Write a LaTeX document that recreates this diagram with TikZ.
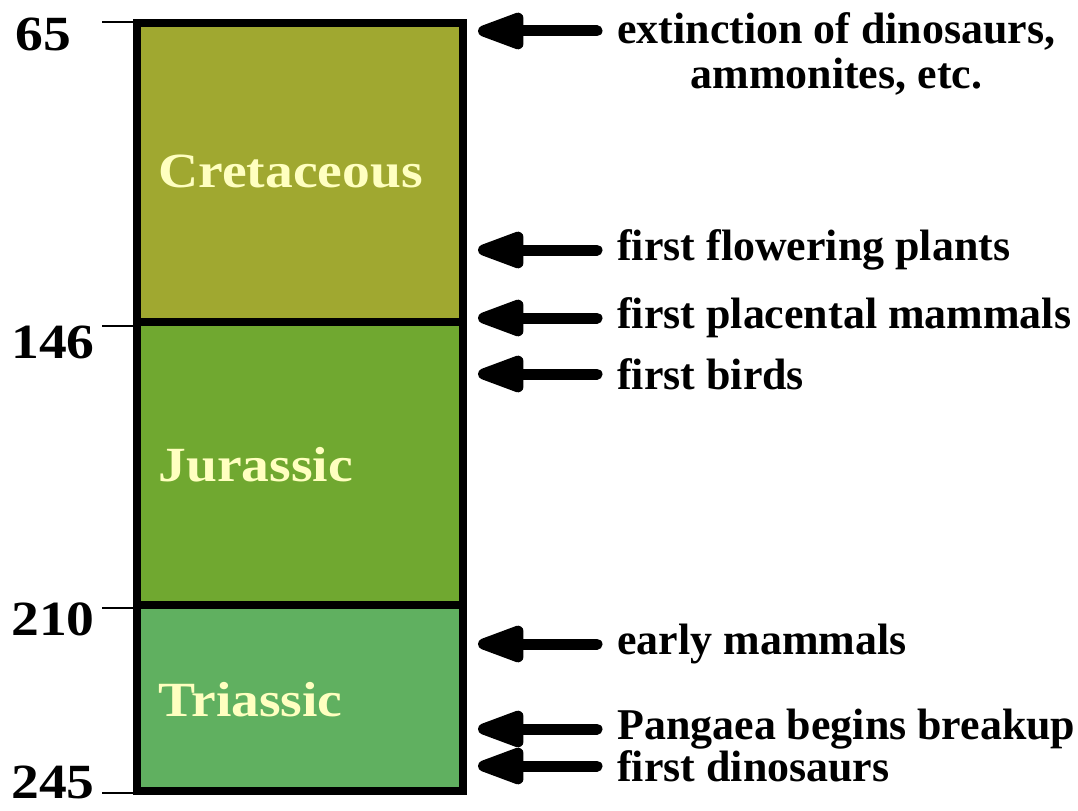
\documentclass[tikz,border=0pt]{standalone}
\usepackage{fontspec}
\setmainfont{Liberation Serif}
\newfontfamily\widefont[FakeStretch=1.13]{Liberation Serif}
\usepackage{tikz}
\usetikzlibrary{shapes,arrows.meta,positioning}

\definecolor{cretcol}{RGB}{160,168,48}
\definecolor{jurcol}{RGB}{112,168,48}
\definecolor{tricol}{RGB}{96,176,96}
\definecolor{namecol}{RGB}{255,255,192}

\tikzset{
	event/.style={anchor=west,inner sep=0pt,font=\bfseries\fontsize{25}{29}\selectfont},
	age/.style={anchor=base west,inner sep=0pt,font=\widefont\bfseries\fontsize{28}{34}\selectfont},
	period/.style={anchor=west,inner sep=0pt,text=namecol,font=\widefont\bfseries\fontsize{28}{34}\selectfont},
	fatarrow/.style={line width=0.22cm,line cap=round,-{Triangle[length=1.15cm,width=0.76cm,round]},shorten <=0.4cm,shorten >=0.22cm},
	tick/.style={line width=0.04cm},
}

\begin{document}
\begin{tikzpicture}[x=0.02cm,y=-0.02cm]
		\useasboundingbox (0,0) rectangle (1078,811);
		% periods
		\fill[cretcol] (137,23) rectangle (463,322);
		\fill[jurcol] (137,322) rectangle (463,605);
		\fill[tricol] (137,605) rectangle (463,791);
		\draw[line width=0.16cm] (137,23) rectangle (463,791);
		\draw[line width=0.16cm] (137,322) -- (463,322);
		\draw[line width=0.16cm] (137,605) -- (463,605);
		\coordinate (edge) at (467,0);
		\node[period] (cret) at (158,172) {Cretaceous};
		\node[period] (jur) at (158,465) {Jurassic};
		\node[period] (tri) at (158,700) {Triassic};
		% ages
		\draw[tick] (102,22) -- (133,22);
		\draw[tick] (102,326) -- (133,326);
		\draw[tick] (102,608) -- (133,608);
		\draw[tick] (102,793) -- (133,793);
		\node[age] (a65) at (15,51) {65};
		\node[age] (a146) at (11,358) {146};
		\node[age] (a210) at (11,635) {210};
		\node[age] (a245) at (11,798) {245};
		% events
		\node[event] (ext) at (617,31) {extinction of dinosaurs,};
		\node[event,below=4pt of ext] (amm) {ammonites, etc.};
		\node[event] (flow) at (617,250) {first flowering plants};
		\node[event] (plac) at (617,318) {first placental mammals};
		\node[event] (bird) at (617,374) {first birds};
		\node[event] (early) at (617,644) {early mammals};
		\node[event] (pang) at (617,729) {Pangaea begins breakup};
		\node[event] (dino) at (617,766) {first dinosaurs};
		\foreach \ev in {ext,flow,plac,bird,early,pang,dino}
			\draw[fatarrow] (\ev.west) -- (\ev.west -| edge);
	\end{tikzpicture}
\end{document}
